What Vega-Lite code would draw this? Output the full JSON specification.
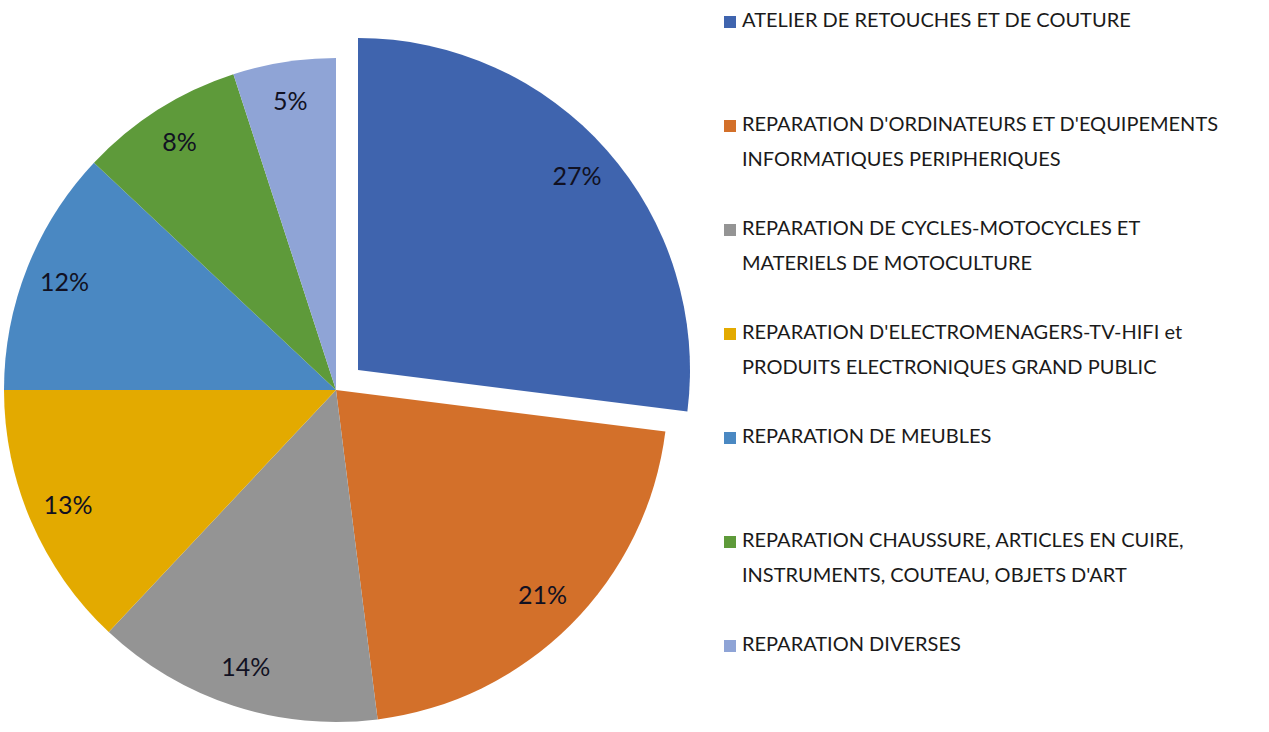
{
  "$schema": "https://vega.github.io/schema/vega-lite/v6.json",
  "width": 672,
  "height": 684,
  "autosize": {"type": "none"},
  "padding": {"top": 48, "left": 0, "right": 597, "bottom": 0},
  "background": "white",
  "config": {"view": {"stroke": null}, "font": "Lato"},
  "data": {
    "values": [
      {"idx": 1, "cat": "ATELIER DE RETOUCHES ET DE COUTURE|", "value": 0.27},
      {"idx": 2, "cat": "REPARATION D'ORDINATEURS ET D'EQUIPEMENTS|INFORMATIQUES PERIPHERIQUES", "value": 0.21},
      {"idx": 3, "cat": "REPARATION DE CYCLES-MOTOCYCLES ET|MATERIELS DE MOTOCULTURE", "value": 0.14},
      {"idx": 4, "cat": "REPARATION D'ELECTROMENAGERS-TV-HIFI et|PRODUITS ELECTRONIQUES GRAND PUBLIC", "value": 0.13},
      {"idx": 5, "cat": "REPARATION DE MEUBLES|", "value": 0.12},
      {"idx": 6, "cat": "REPARATION CHAUSSURE, ARTICLES EN CUIRE,|INSTRUMENTS, COUTEAU, OBJETS D'ART", "value": 0.08},
      {"idx": 7, "cat": "REPARATION DIVERSES|", "value": 0.05}
    ]
  },
  "encoding": {
    "theta": {"field": "value", "type": "quantitative", "stack": true},
    "order": {"field": "idx", "type": "quantitative"},
    "color": {
      "field": "cat",
      "type": "nominal",
      "sort": null,
      "scale": {
        "domain": [
          "ATELIER DE RETOUCHES ET DE COUTURE|",
          "REPARATION D'ORDINATEURS ET D'EQUIPEMENTS|INFORMATIQUES PERIPHERIQUES",
          "REPARATION DE CYCLES-MOTOCYCLES ET|MATERIELS DE MOTOCULTURE",
          "REPARATION D'ELECTROMENAGERS-TV-HIFI et|PRODUITS ELECTRONIQUES GRAND PUBLIC",
          "REPARATION DE MEUBLES|",
          "REPARATION CHAUSSURE, ARTICLES EN CUIRE,|INSTRUMENTS, COUTEAU, OBJETS D'ART",
          "REPARATION DIVERSES|"
        ],
        "range": ["#3F64AE", "#D3702A", "#949494", "#E3AA00", "#4A88C2", "#5E9A3A", "#8FA4D6"]
      },
      "legend": {
        "title": null,
        "orient": "none",
        "legendX": 720,
        "legendY": -36,
        "symbolType": "square",
        "symbolSize": 144,
        "symbolStrokeWidth": 0,
        "labelFont": "Lato",
        "labelFontSize": 20,
        "labelColor": "#1a1a1a",
        "labelLimit": 600,
        "labelOffset": 2,
        "labelBaseline": "top",
        "labelExpr": "split(datum.label, '|')",
        "rowPadding": 49,
        "encode": {"labels": {"update": {"lineHeight": {"value": 35}, "dy": {"value": -11}}}}
      }
    }
  },
  "layer": [
    {
      "mark": {
        "type": "arc",
        "outerRadius": 332,
        "xOffset": {"expr": "datum.idx == 1 ? 22 : 0"},
        "yOffset": {"expr": "datum.idx == 1 ? -20 : 0"}
      }
    },
    {
      "mark": {
        "type": "text",
        "radius": 292,
        "font": "Lato",
        "fontSize": 25,
        "xOffset": {"expr": "datum.idx == 1 ? 22 : 0"},
        "yOffset": {"expr": "datum.idx == 1 ? -20 : 0"}
      },
      "encoding": {
        "text": {"field": "value", "type": "quantitative", "format": ".0%"},
        "color": {"value": "#111122"}
      }
    }
  ]
}
